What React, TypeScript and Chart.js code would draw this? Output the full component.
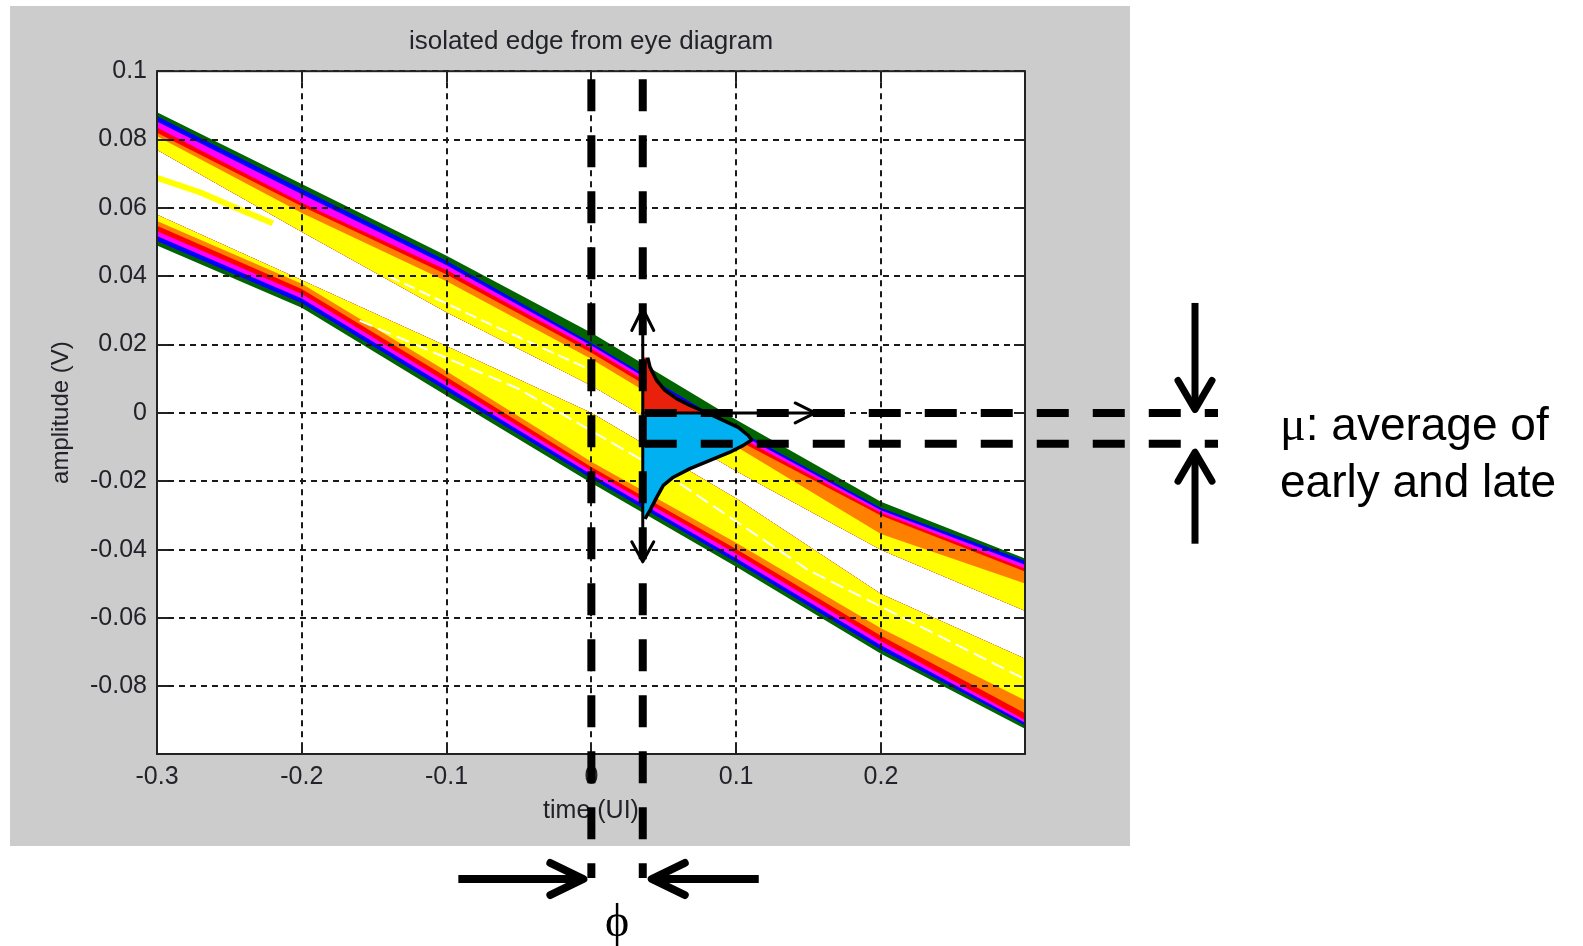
import React, { useEffect, useRef } from 'react';
import { Chart, registerables } from 'chart.js';

Chart.register(...registerables);

const W = 1583;
const H = 946;
const SANS = '"Liberation Sans", Arial, Helvetica, sans-serif';
const SERIF = '"Liberation Serif", "DejaVu Serif", "Times New Roman", serif';

// ---- text ----
const titleText = 'isolated edge from eye diagram';
const xTitle = 'time (UI)';
const yTitle = 'amplitude (V)';
const muNote = ['μ', ': average of', 'early and late'];
const phaseLabel = 'ϕ';

// ---- axes ----
const xTickValues = [-0.3, -0.2, -0.1, 0, 0.1, 0.2];
const xTickLabels = ['-0.3', '-0.2', '-0.1', '0', '0.1', '0.2'];
const yTickValues = [-0.08, -0.06, -0.04, -0.02, 0, 0.02, 0.04, 0.06, 0.08, 0.1];
const yTickLabels = ['-0.08', '-0.06', '-0.04', '-0.02', '0', '0.02', '0.04', '0.06', '0.08', '0.1'];

// ---- density bands of the isolated edge (amplitude of each colour boundary, V) ----
const bandTimes = [-0.3, -0.2, -0.1, 0, 0.1, 0.2, 0.3];

// upper trace family, from its outer edge inward
const upperGreenEdge = [0.088, 0.067, 0.046, 0.0235, -0.002, -0.026, -0.0427];
const upperBlueEdge = [0.0868, 0.0655, 0.0445, 0.0205, -0.0048, -0.0278, -0.0433];
const upperMagentaEdge = [0.0853, 0.064, 0.0432, 0.0197, -0.0056, -0.0285, -0.0445];
const upperRedEdge = [0.0835, 0.0615, 0.0418, 0.0188, -0.0066, -0.0292, -0.0456];
const upperOrangeEdge = [0.082, 0.0605, 0.0405, 0.0176, -0.0078, -0.03, -0.0465];
const upperYellowEdge = [0.081, 0.0585, 0.0385, 0.0158, -0.0098, -0.0354, -0.05];
const upperInnerEdge = [0.077, 0.053, 0.0295, 0.008, -0.017, -0.04, -0.058];

// lower trace family, from its outer edge inward
const lowerGreenEdge = [0.049, 0.0308, 0.005, -0.0205, -0.045, -0.0705, -0.0925];
const lowerBlueEdge = [0.0503, 0.0321, 0.0065, -0.0192, -0.0437, -0.0693, -0.0915];
const lowerMagentaEdge = [0.0518, 0.0335, 0.0078, -0.018, -0.0425, -0.068, -0.0908];
const lowerRedEdge = [0.0532, 0.0348, 0.009, -0.017, -0.0412, -0.0668, -0.09];
const lowerOrangeEdge = [0.0548, 0.0363, 0.0105, -0.0158, -0.0398, -0.0652, -0.088];
const lowerYellowEdge = [0.0562, 0.0378, 0.0122, -0.0143, -0.038, -0.063, -0.0842];
const lowerInnerEdge = [0.058, 0.0388, 0.0195, 0.0, -0.025, -0.053, -0.072];

// faint trace between the two families at the left
const strayTimes = [-0.3, -0.27, -0.24, -0.22];
const strayAmps = [0.0688, 0.0645, 0.059, 0.0555];

// sparse (white) lanes running inside the yellow regions
const upperLaneTimes = [-0.14, -0.07, 0.0];
const upperLaneAmps = [0.04, 0.026, 0.0125];
const lowerLaneTimes = [-0.16, -0.05, 0.05, 0.15, 0.3];
const lowerLaneAmps = [0.027, 0.007, -0.0175, -0.046, -0.078];

// ---- crossing-time distribution drawn on the sampling instant ----
const earlyTimes = [0.0389, 0.0405, 0.0451, 0.0508, 0.0589, 0.0681, 0.0773, 0.08];
const earlyAmps = [0.0162, 0.0134, 0.0095, 0.0066, 0.0042, 0.0022, 0.0005, 0];
const lateTimes = [0.08, 0.0911, 0.1015, 0.1084, 0.1107, 0.1049, 0.0957, 0.0819, 0.0681, 0.0566, 0.0497, 0.0451, 0.0405, 0.037];
const lateAmps = [0, -0.0022, -0.0042, -0.0066, -0.0079, -0.0095, -0.0115, -0.0139, -0.0163, -0.0188, -0.0212, -0.0247, -0.0285, -0.031];

// ---- markers ----
const phaseEdges = [0, 0.0355]; // ideal crossing and recovered phase (UI)
const muLevels = [0, -0.009]; // threshold and mean of early/late (V)
const amplitudeArrow = [0.031, -0.044];
const timeArrowEnd = 0.1556;

const COLORS = {
  green: '#006400',
  blue: '#0000ff',
  magenta: '#ff00ff',
  red: '#ff0000',
  orange: '#ff8000',
  yellow: '#ffff00',
  early: '#e8200c',
  late: '#00b0f0',
  text: '#22222a',
  grid: '#1a1a1a',
  panel: '#cccccc',
};

const pts = (ts: number[], as: number[]) => ts.map((t, i) => ({ x: t, y: as[i] }));
const ribbon = (outer: number[], inner: number[]) => [
  ...pts(bandTimes, outer),
  ...pts(bandTimes, inner).reverse(),
];

function buildDatasets() {
  const layers: any[] = [];
  const upper: [number[], string][] = [
    [upperGreenEdge, COLORS.green],
    [upperBlueEdge, COLORS.blue],
    [upperMagentaEdge, COLORS.magenta],
    [upperRedEdge, COLORS.red],
    [upperOrangeEdge, COLORS.orange],
    [upperYellowEdge, COLORS.yellow],
  ];
  const lower: [number[], string][] = [
    [lowerGreenEdge, COLORS.green],
    [lowerBlueEdge, COLORS.blue],
    [lowerMagentaEdge, COLORS.magenta],
    [lowerRedEdge, COLORS.red],
    [lowerOrangeEdge, COLORS.orange],
    [lowerYellowEdge, COLORS.yellow],
  ];
  upper.forEach(([edge, color]) =>
    layers.push({ data: ribbon(edge, upperInnerEdge), backgroundColor: color, fill: 'shape', borderWidth: 0 })
  );
  lower.forEach(([edge, color]) =>
    layers.push({ data: ribbon(edge, lowerInnerEdge), backgroundColor: color, fill: 'shape', borderWidth: 0 })
  );
  layers.push({ data: pts(strayTimes, strayAmps), borderColor: COLORS.yellow, borderWidth: 6, fill: false });
  layers.push({ data: pts(upperLaneTimes, upperLaneAmps), borderColor: '#ffffff', borderWidth: 2, borderDash: [12, 5], fill: false });
  layers.push({ data: pts(lowerLaneTimes, lowerLaneAmps), borderColor: '#ffffff', borderWidth: 2, borderDash: [14, 6], fill: false });

  // distribution overlays, painted above the grid
  const last = lateAmps.length - 1;
  layers.push({
    overlay: true,
    overlayFill: COLORS.early,
    data: [{ x: phaseEdges[1], y: earlyAmps[0] }, ...pts(earlyTimes, earlyAmps), { x: phaseEdges[1], y: 0 }],
    borderWidth: 0,
    fill: false,
  });
  layers.push({
    overlay: true,
    overlayFill: COLORS.late,
    data: [{ x: phaseEdges[1], y: 0 }, ...pts(lateTimes, lateAmps), { x: phaseEdges[1], y: lateAmps[last] }],
    borderWidth: 0,
    fill: false,
  });
  layers.push({
    overlay: true,
    data: [...pts(earlyTimes, earlyAmps), ...pts(lateTimes.slice(1), lateAmps.slice(1))],
    borderColor: '#000000',
    borderWidth: 3.5,
    borderJoinStyle: 'round',
    fill: false,
  });

  const n = layers.length;
  return layers.map((d, i) => ({
    pointRadius: 0,
    tension: 0,
    order: n - i,
    ...d,
  }));
}

function arrow(ctx: CanvasRenderingContext2D, x1: number, y1: number, x2: number, y2: number, w: number, headLen: number, headHalf: number) {
  const ang = Math.atan2(y2 - y1, x2 - x1);
  const c = Math.cos(ang);
  const s = Math.sin(ang);
  const tx = x2 - (c * w) / 2;
  const ty = y2 - (s * w) / 2;
  ctx.setLineDash([]);
  ctx.lineWidth = w;
  ctx.lineCap = 'butt';
  ctx.beginPath();
  ctx.moveTo(x1, y1);
  ctx.lineTo(tx - c * w * 0.3, ty - s * w * 0.3);
  ctx.stroke();
  const bx = tx - c * headLen;
  const by = ty - s * headLen;
  ctx.lineCap = 'round';
  ctx.lineJoin = 'round';
  ctx.beginPath();
  ctx.moveTo(bx - s * headHalf, by + c * headHalf);
  ctx.lineTo(tx, ty);
  ctx.lineTo(bx + s * headHalf, by - c * headHalf);
  ctx.stroke();
}

const PANEL_RIGHT = 1130;

const figurePlugin = {
  id: 'figureDecor',
  beforeDraw(chart: any) {
    const { ctx, chartArea: a, scales } = chart;
    ctx.save();
    ctx.fillStyle = COLORS.panel;
    const top = chart.options.layout.padding.top;
    ctx.fillRect(scales.y.left, top, PANEL_RIGHT - scales.y.left, scales.x.bottom - top);
    ctx.fillStyle = '#ffffff';
    ctx.fillRect(a.left, a.top, a.right - a.left, a.bottom - a.top);
    ctx.restore();
  },
  beforeDatasetDraw(chart: any, args: any) {
    if (chart.data.datasets[args.index].overlay) return false;
    return undefined;
  },
  afterDraw(chart: any) {
    const { ctx, chartArea: a, scales } = chart;
    const xs = scales.x;
    const ys = scales.y;
    ctx.save();

    // axes box and inward ticks
    ctx.strokeStyle = '#222222';
    ctx.lineWidth = 2;
    ctx.setLineDash([]);
    ctx.strokeRect(a.left, a.top, a.right - a.left, a.bottom - a.top);
    ctx.beginPath();
    xTickValues.forEach((v) => {
      const px = Math.round(xs.getPixelForValue(v));
      ctx.moveTo(px, a.bottom);
      ctx.lineTo(px, a.bottom - 11);
      ctx.moveTo(px, a.top);
      ctx.lineTo(px, a.top + 11);
    });
    yTickValues.forEach((v) => {
      const py = Math.round(ys.getPixelForValue(v));
      ctx.moveTo(a.left, py);
      ctx.lineTo(a.left + 11, py);
      ctx.moveTo(a.right, py);
      ctx.lineTo(a.right - 11, py);
    });
    ctx.stroke();

    // distribution overlays
    chart.data.datasets.forEach((ds: any, i: number) => {
      if (!ds.overlay) return;
      const line = chart.getDatasetMeta(i).dataset;
      ctx.save();
      ctx.beginPath();
      ctx.rect(a.left, a.top, a.right - a.left, a.bottom - a.top);
      ctx.clip();
      if (ds.overlayFill) {
        ctx.beginPath();
        line.path(ctx);
        ctx.closePath();
        ctx.fillStyle = ds.overlayFill;
        ctx.fill();
      }
      if (ds.borderWidth) line.draw(ctx, a);
      ctx.restore();
    });

    ctx.strokeStyle = '#000000';
    ctx.fillStyle = '#000000';

    // thin arrows: amplitude axis of the distribution and the time direction
    const pPhase = xs.getPixelForValue(phaseEdges[1]);
    const pTop = ys.getPixelForValue(amplitudeArrow[0]);
    const pBot = ys.getPixelForValue(amplitudeArrow[1]);
    const pMid = (pTop + pBot) / 2;
    arrow(ctx, pPhase, pMid, pPhase, pTop, 3, 22, 11);
    arrow(ctx, pPhase, pMid, pPhase, pBot, 3, 20, 11);
    const pZero = ys.getPixelForValue(muLevels[0]);
    arrow(ctx, pPhase, pZero, xs.getPixelForValue(timeArrowEnd), pZero, 3, 20, 10);

    // heavy dashed guides
    const guideTop = a.top + 8;
    const guideBottom = xs.bottom + 32;
    const guideRight = 1218;
    ctx.lineWidth = 8;
    ctx.lineCap = 'butt';
    ctx.setLineDash([32, 24]);
    ctx.lineDashOffset = 0;
    phaseEdges.forEach((t) => {
      const px = xs.getPixelForValue(t);
      ctx.beginPath();
      ctx.moveTo(px, guideTop);
      ctx.lineTo(px, guideBottom);
      ctx.stroke();
    });
    muLevels.forEach((v) => {
      const py = ys.getPixelForValue(v);
      ctx.beginPath();
      ctx.moveTo(pPhase + 2, py);
      ctx.lineTo(guideRight, py);
      ctx.stroke();
    });
    ctx.setLineDash([]);

    // mu arrows
    const muX = 1195;
    const pMu0 = ys.getPixelForValue(muLevels[0]);
    const pMu1 = ys.getPixelForValue(muLevels[1]);
    arrow(ctx, muX, pMu0 - 110, muX, pMu0, 7, 29, 17);
    arrow(ctx, muX, pMu1 + 100, muX, pMu1 + 5, 7, 29, 17);

    // phase arrows
    const pPhase0 = xs.getPixelForValue(phaseEdges[0]);
    const arrowY = guideBottom + 1;
    arrow(ctx, pPhase0 - 133, arrowY, pPhase0 - 4, arrowY, 8, 33, 16);
    arrow(ctx, pPhase + 116, arrowY, pPhase + 5, arrowY, 8, 33, 16);

    // notes
    ctx.textBaseline = 'alphabetic';
    ctx.textAlign = 'left';
    const noteX = 1280;
    ctx.font = `48px ${SERIF}`;
    ctx.fillText(muNote[0], noteX, 440);
    const muW = ctx.measureText(muNote[0]).width;
    ctx.font = `46px ${SANS}`;
    ctx.fillText(muNote[1], noteX + muW, 440);
    ctx.fillText(muNote[2], noteX, 497);

    ctx.textAlign = 'center';
    ctx.font = `46px ${SERIF}`;
    ctx.fillText(phaseLabel, (pPhase0 + pPhase) / 2, 936);

    ctx.restore();
  },
};

const tickFont = { family: SANS, size: 25 };

export default function App() {
  const ref = useRef<HTMLCanvasElement>(null);

  useEffect(() => {
    const canvas = ref.current;
    if (!canvas) return;
    const chart = new Chart(canvas, {
      type: 'line',
      data: { datasets: buildDatasets() as any },
      options: {
        responsive: false,
        animation: false,
        devicePixelRatio: 1,
        events: [],
        layout: { padding: { left: 10, top: 6, right: 558, bottom: 100 } },
        plugins: {
          legend: { display: false },
          tooltip: { enabled: false },
          title: {
            display: true,
            text: titleText,
            fullSize: false,
            color: COLORS.text,
            font: { family: SANS, size: 26, weight: 'normal' },
            padding: { top: 20, bottom: 14 },
          },
        },
        scales: {
          x: {
            type: 'linear',
            min: -0.3,
            max: 0.2995,
            afterBuildTicks: (s: any) => {
              s.ticks = xTickValues.map((value) => ({ value }));
            },
            afterFit: (s: any) => {
              s.height = 92;
            },
            grid: { color: COLORS.grid, lineWidth: 2, drawTicks: false, z: 1, borderDash: [6, 5] } as any,
            border: { display: false, dash: [6, 5] },
            ticks: {
              color: COLORS.text,
              font: tickFont,
              padding: 8,
              maxRotation: 0,
              autoSkip: false,
              callback: (_v: any, i: number) => xTickLabels[i],
            },
            title: {
              display: true,
              text: xTitle,
              color: COLORS.text,
              font: tickFont,
              padding: { top: 0, bottom: 20 },
            },
          },
          y: {
            type: 'linear',
            min: -0.0998,
            max: 0.1,
            afterBuildTicks: (s: any) => {
              s.ticks = yTickValues.map((value) => ({ value }));
            },
            afterFit: (s: any) => {
              s.width = 147;
            },
            grid: { color: COLORS.grid, lineWidth: 2, drawTicks: false, z: 1, borderDash: [6, 5] } as any,
            border: { display: false, dash: [6, 5] },
            ticks: {
              color: COLORS.text,
              font: tickFont,
              padding: 10,
              autoSkip: false,
              callback: (_v: any, i: number) => yTickLabels[i],
            },
            title: {
              display: true,
              text: yTitle,
              color: COLORS.text,
              font: { family: SANS, size: 24 },
              padding: { top: 37, bottom: 0 },
            },
          },
        },
      } as any,
      plugins: [figurePlugin as any],
    });
    return () => chart.destroy();
  }, []);

  return (
    <div style={{ position: 'absolute', left: 0, top: 0, width: W, height: H }}>
      <canvas ref={ref} width={W} height={H} style={{ display: 'block', width: W, height: H }} />
    </div>
  );
}
